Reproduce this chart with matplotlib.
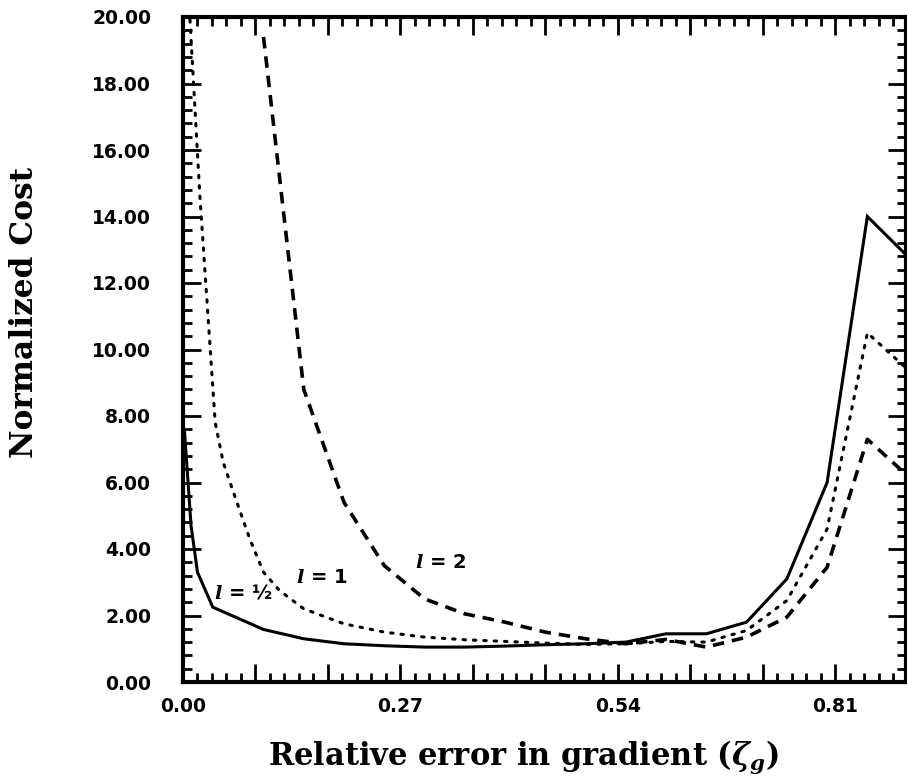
import matplotlib
matplotlib.use("Agg")
import matplotlib.pyplot as plt
from matplotlib.ticker import MultipleLocator, FixedLocator, FuncFormatter

plt.rcParams["mathtext.fontset"] = "dejavuserif"

# ---- data ----
x_half = [0.002, 0.01, 0.018, 0.037, 0.10, 0.15, 0.20, 0.25, 0.30, 0.35, 0.40,
          0.45, 0.50, 0.55, 0.60, 0.65, 0.70, 0.75, 0.80, 0.85, 0.90]
y_half = [7.5, 4.7, 3.3, 2.25, 1.58, 1.30, 1.15, 1.09, 1.05, 1.05, 1.08,
          1.12, 1.15, 1.20, 1.45, 1.45, 1.80, 3.10, 6.00, 14.00, 12.80]

x_one = [0.005, 0.021, 0.04, 0.05, 0.067, 0.083, 0.10, 0.12, 0.15, 0.20, 0.25,
         0.30, 0.35, 0.40, 0.45, 0.50, 0.55, 0.60, 0.65, 0.70, 0.75, 0.80,
         0.85, 0.90]
y_one = [21.5, 14.6, 7.8, 6.6, 5.4, 4.3, 3.3, 2.75, 2.2, 1.75, 1.5,
         1.35, 1.27, 1.22, 1.17, 1.13, 1.15, 1.22, 1.20, 1.55, 2.45, 4.60,
         10.5, 9.4]

x_two = [0.10, 0.15, 0.20, 0.25, 0.30, 0.35, 0.40, 0.45, 0.50, 0.55, 0.60,
         0.65, 0.70, 0.75, 0.80, 0.85, 0.90]
y_two = [19.4, 8.8, 5.4, 3.5, 2.5, 2.05, 1.8, 1.5, 1.3, 1.15, 1.28,
         1.05, 1.35, 1.95, 3.45, 7.3, 6.2]

x_tick_labels = [0.00, 0.27, 0.54, 0.81]
y_tick_values = [0, 2, 4, 6, 8, 10, 12, 14, 16, 18, 20]

fig = plt.figure(figsize=(9.07, 7.81), dpi=100)
ax = fig.add_axes([183 / 907, 1 - 682 / 781, (906 - 183) / 907, (682 - 17) / 781])

ax.plot(x_half, y_half, color="black", lw=2.2, solid_joinstyle="miter")
ax.plot(x_one, y_one, color="black", lw=2.2, linestyle=(0, (0.8, 2.6)),
        dash_capstyle="round")
ax.plot(x_two, y_two, color="black", lw=2.6, linestyle=(0, (3.2, 2.2)))

ax.set_xlim(0, 0.898)
ax.set_ylim(0, 20)

ax.xaxis.set_major_locator(MultipleLocator(0.09))
ax.xaxis.set_minor_locator(MultipleLocator(0.018))
ax.yaxis.set_major_locator(FixedLocator(y_tick_values))
ax.yaxis.set_minor_locator(MultipleLocator(0.4))

def xfmt(v, pos):
    for t in x_tick_labels:
        if abs(v - t) < 1e-6:
            return "%.2f" % t
    return ""

ax.xaxis.set_major_formatter(FuncFormatter(xfmt))
ax.yaxis.set_major_formatter(FuncFormatter(lambda v, p: "%.2f" % v))

ax.tick_params(which="both", direction="in", top=True, right=True, color="black")
ax.tick_params(which="major", length=13, width=2.0)
ax.tick_params(which="minor", length=6.5, width=2.0)
ax.tick_params(axis="x", which="major", pad=11)
ax.tick_params(axis="y", which="major", pad=23)

for lab in ax.get_xticklabels() + ax.get_yticklabels():
    lab.set_fontfamily("DejaVu Sans")
    lab.set_fontweight("bold")
    lab.set_fontsize(13.5)

for s in ax.spines.values():
    s.set_linewidth(3)

ax.set_xlabel(r"Relative error in gradient ($\mathbfit{\zeta}_{\mathbfit{g}}$)",
              fontfamily="DejaVu Serif", fontweight="bold", fontsize=22,
              va="center", ha="center")
ax.xaxis.set_label_coords((523 - 183) / 723, (682 - 757) / 665)
ax.set_ylabel("Normalized Cost", fontfamily="DejaVu Serif", fontweight="bold",
              fontsize=22.5, va="center", ha="center")
ax.yaxis.set_label_coords((25 - 183) / 723, (682 - 312) / 665)

lab_kw = dict(fontfamily="DejaVu Sans", fontweight="bold", fontsize=14,
              ha="center", va="center")
ax.text(0.075, 2.68, r"$\mathbfit{l}$ = ½", **lab_kw)
ax.text(0.173, 3.13, r"$\mathbfit{l}$ = 1", **lab_kw)
ax.text(0.320, 3.58, r"$\mathbfit{l}$ = 2", **lab_kw)

fig.savefig("out.png", dpi=100, facecolor="white")
